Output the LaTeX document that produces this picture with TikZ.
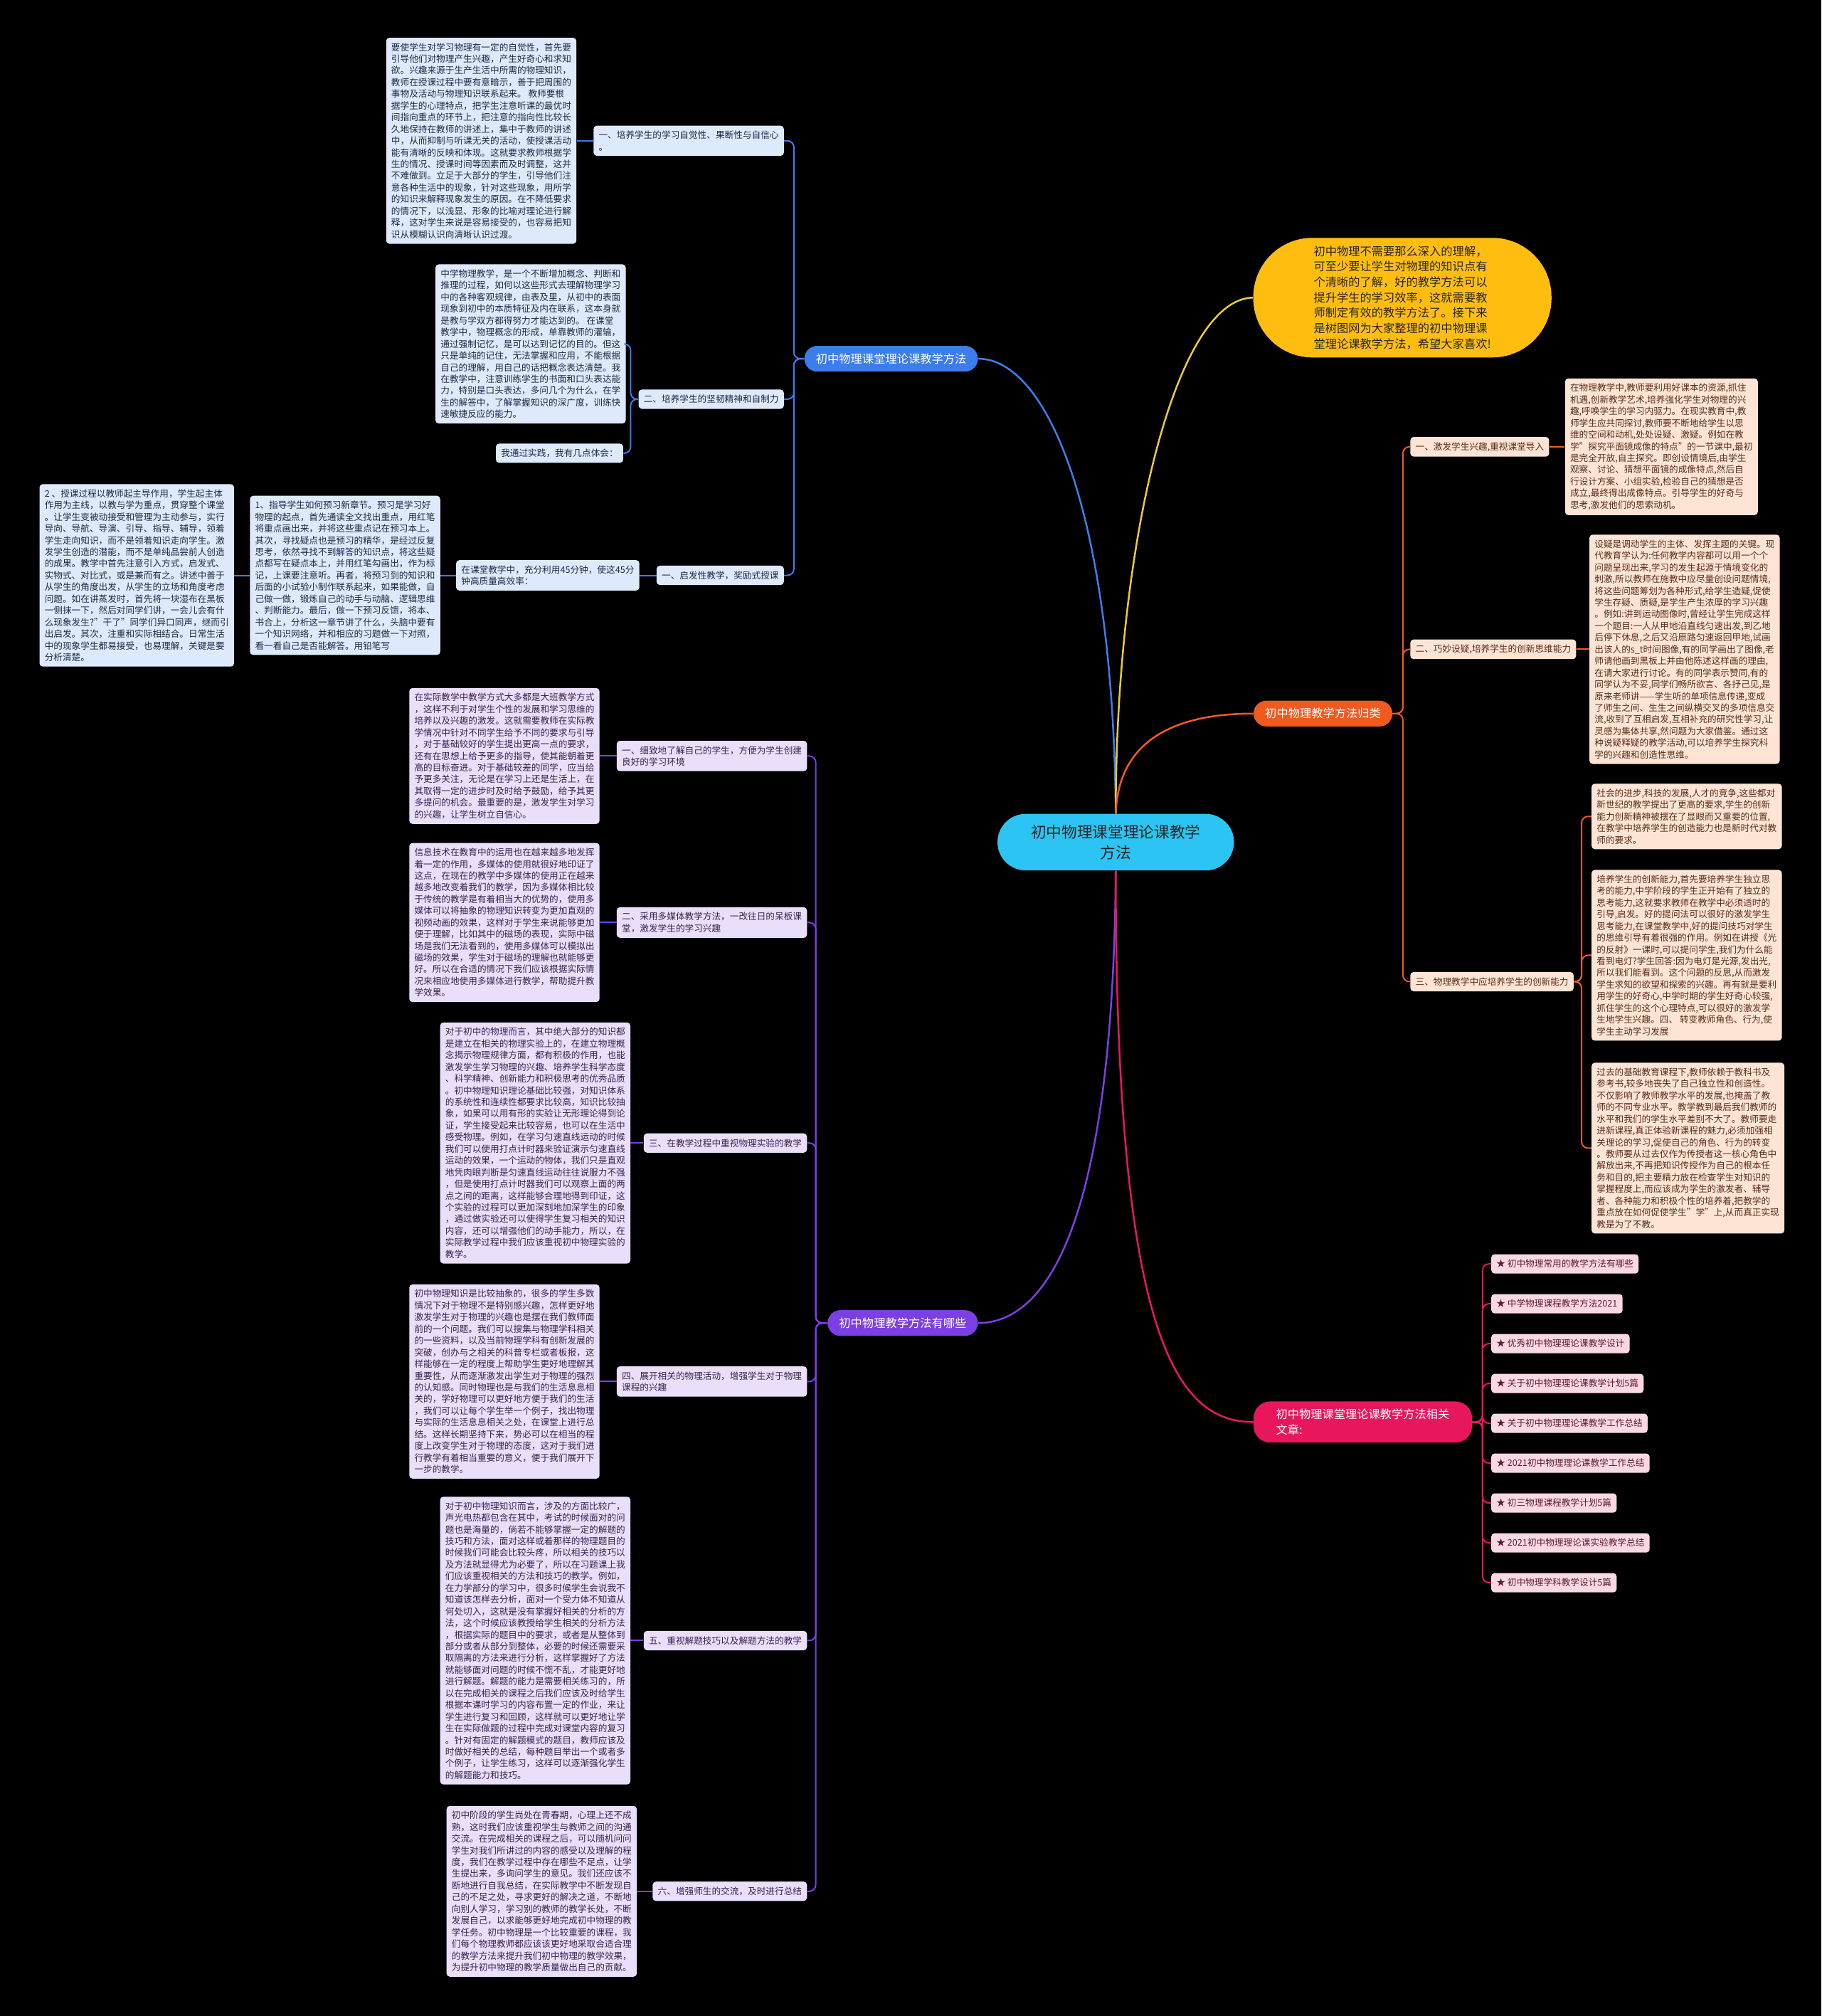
\documentclass[tikz,border=0pt]{standalone}
\usepackage{fontspec}
\setmainfont{Noto Sans CJK SC}
\usetikzlibrary{positioning}
\definecolor{rootC}{RGB}{43,196,243}
\definecolor{introC}{RGB}{255,190,15}
\definecolor{blueM}{RGB}{59,125,235}
\definecolor{blueL}{RGB}{222,233,251}
\definecolor{blueT}{RGB}{32,42,70}
\definecolor{purpM}{RGB}{123,63,228}
\definecolor{purpL}{RGB}{233,223,250}
\definecolor{purpT}{RGB}{55,35,80}
\definecolor{orgM}{RGB}{240,90,30}
\definecolor{orgL}{RGB}{253,228,212}
\definecolor{orgT}{RGB}{88,45,25}
\definecolor{pinkM}{RGB}{232,23,93}
\definecolor{pinkL}{RGB}{252,216,229}
\definecolor{pinkT}{RGB}{90,30,50}
\definecolor{yelLn}{RGB}{232,200,60}

\begin{document}
\begin{tikzpicture}[x=1pt, y=-1pt, font=\fontsize{7}{9.1}\selectfont, node distance=12pt,
  box/.style={rounded corners=2.5pt, align=left, inner xsep=4pt, inner ysep=4pt},
  lbl/.style={box, minimum height=15pt},
  bluebox/.style={fill=blueL, text=blueT},
  purpbox/.style={fill=purpL, text=purpT},
  orgbox/.style={fill=orgL, text=orgT},
  pinkbox/.style={fill=pinkL, text=pinkT},
  main/.style={rounded corners=10pt, minimum height=20pt, inner xsep=9pt, text=white, font=\fontsize{9}{12}\selectfont},
  mainln/.style={line width=1.4pt},
  ln/.style={line width=1.1pt, rounded corners=5pt}]
\fill[black] (0,0) rectangle (1417,1568);
\useasboundingbox (0,0) rectangle (1417,1568);

\node[main, fill=rootC, text=black!85, font=\fontsize{12}{16}\selectfont, minimum width=184pt, minimum height=44pt, rounded corners=22pt, align=center] (root) at (868,655) {初中物理课堂理论课教学\\方法};
\node[fill=introC, text=black!85, rounded corners=46pt, minimum width=232pt, minimum height=93pt, align=left, font=\fontsize{9}{12}\selectfont] (intro) at (1091,231.5) {初中物理不需要那么深入的理解，\\可至少要让学生对物理的知识点有\\个清晰的了解，好的教学方法可以\\提升学生的学习效率，这就需要教\\师制定有效的教学方法了。接下来\\是树图网为大家整理的初中物理课\\堂理论课教学方法，希望大家喜欢!};
\node[main, fill=blueM, anchor=east] (b1) at (761,279) {初中物理课堂理论课教学方法};
\node[main, fill=purpM, anchor=east] (b2) at (761,1029) {初中物理教学方法有哪些};
\node[main, fill=orgM, anchor=west] (b3) at (975,555) {初中物理教学方法归类};
\node[main, fill=pinkM, anchor=west, minimum width=170pt, minimum height=32pt, rounded corners=13pt, align=left] (b4) at (975,1106) {初中物理课堂理论课教学方法相关\\文章:};

\draw[mainln, blueM] (root.north) .. controls (866,400) and (815,279) .. (b1.east);
\draw[mainln, yelLn] (root.north) .. controls (868,420) and (915,232) .. (intro.west);
\draw[mainln, orgM] (root.north) .. controls (870,575) and (915,555) .. (b3.west);
\draw[mainln, purpM] (root.south) .. controls (866,950) and (815,1029) .. (b2.east);
\draw[mainln, pinkM] (root.south) .. controls (868,1040) and (915,1106) .. (b4.west);

\node[lbl, bluebox, anchor=east] (s1) at (610,109.5) {一、培养学生的学习自觉性、果断性与自信心\\。};
\node[box, bluebox, left=13pt of s1] (s1t) {要使学生对学习物理有一定的自觉性，首先要\\引导他们对物理产生兴趣，产生好奇心和求知\\欲。兴趣来源于生产生活中所需的物理知识，\\教师在授课过程中要有意暗示，善于把周围的\\事物及活动与物理知识联系起来。 教师要根\\据学生的心理特点，把学生注意听课的最优时\\间指向重点的环节上，把注意的指向性比较长\\久地保持在教师的讲述上，集中于教师的讲述\\中，从而抑制与听课无关的活动，使授课活动\\能有清晰的反映和体现。这就要求教师根据学\\生的情况、授课时间等因素而及时调整，这并\\不难做到。立足于大部分的学生，引导他们注\\意各种生活中的现象，针对这些现象，用所学\\的知识来解释现象发生的原因。在不降低要求\\的情况下，以浅显、形象的比喻对理论进行解\\释，这对学生来说是容易接受的，也容易把知\\识从模糊认识向清晰认识过渡。};
\node[lbl, bluebox, anchor=east] (s2) at (610,310.5) {二、培养学生的坚韧精神和自制力};
\node[box, bluebox, anchor=east] (s2t) at (487,267.5) {中学物理教学，是一个不断增加概念、判断和\\推理的过程，如何以这些形式去理解物理学习\\中的各种客观规律，由表及里，从初中的表面\\现象到初中的本质特征及内在联系，这本身就\\是教与学双方都得努力才能达到的。 在课堂\\教学中，物理概念的形成，单靠教师的灌输，\\通过强制记忆，是可以达到记忆的目的。但这\\只是单纯的记住，无法掌握和应用，不能根据\\自己的理解，用自己的话把概念表达清楚。我\\在教学中，注意训练学生的书面和口头表达能\\力，特别是口头表达，多问几个为什么，在学\\生的解答中，了解掌握知识的深广度，训练快\\速敏捷反应的能力。};
\node[lbl, bluebox, anchor=east] (s2n) at (485,352.5) {我通过实践，我有几点体会：};
\node[lbl, bluebox, anchor=east] (s3) at (610,447.5) {一、启发性教学，奖励式授课};
\node[box, bluebox, left=13pt of s3] (s3m) {在课堂教学中，充分利用45分钟，使这45分\\钟高质量高效率：};
\node[box, bluebox, left=12pt of s3m] (s3a) {1、指导学生如何预习新章节。预习是学习好\\物理的起点，首先通读全文找出重点，用红笔\\将重点画出来，并将这些重点记在预习本上。\\其次，寻找疑点也是预习的精华，是经过反复\\思考，依然寻找不到解答的知识点，将这些疑\\点都写在疑点本上，并用红笔勾画出，作为标\\记，上课要注意听。再者，将预习到的知识和\\后面的小试验小制作联系起来，如果能做，自\\己做一做，锻炼自己的动手与动脑、逻辑思维\\、判断能力。最后，做一下预习反馈，将本、\\书合上，分析这一章节讲了什么，头脑中要有\\一个知识网络，并和相应的习题做一下对照，\\看一看自己是否能解答。用铅笔写};
\node[box, bluebox, left=12pt of s3a] (s3b) {2 、授课过程以教师起主导作用，学生起主体\\作用为主线，以教与学为重点，贯穿整个课堂\\。让学生变被动接受和管理为主动参与，实行\\导向、导航、导演、引导、指导、辅导，领着\\学生走向知识，而不是领着知识走向学生。激\\发学生创造的潜能，而不是单纯品尝前人创造\\的成果。教学中首先注意引入方式，启发式、\\实物式、对比式，或是兼而有之。讲述中善于\\从学生的角度出发，从学生的立场和角度考虑\\问题。如在讲蒸发时，首先将一块湿布在黑板\\一侧抹一下，然后对同学们讲，一会儿会有什\\么现象发生?"干了"同学们异口同声，继而引\\出启发。其次，注重和实际相结合。日常生活\\中的现象学生都易接受，也易理解，关键是要\\分析清楚。};
\foreach \c in {s1,s2,s3} \draw[ln, blueM] (b1.west) -- ++(-8,0) |- (\c.east);
\draw[ln, blueM] (s1.west) -- (s1t.east);
\foreach \c in {s2t,s2n} \draw[ln, blueM] (s2.west) -- ++(-6,0) |- (\c.east);
\draw[ln, blueM] (s3.west) -- (s3m.east);
\draw[ln, blueM] (s3m.west) -- (s3a.east);
\draw[ln, blueM] (s3a.west) -- (s3b.east);

\node[lbl, purpbox, anchor=east] (p1) at (628,588) {一、细致地了解自己的学生，方便为学生创建\\良好的学习环境};
\node[box, purpbox, left=13pt of p1] (p1t) {在实际教学中教学方式大多都是大班教学方式\\，这样不利于对学生个性的发展和学习思维的\\培养以及兴趣的激发。这就需要教师在实际教\\学情况中针对不同学生给予不同的要求与引导\\，对于基础较好的学生提出更高一点的要求，\\还有在思想上给予更多的指导，使其能朝着更\\高的目标奋进。对于基础较差的同学，应当给\\予更多关注，无论是在学习上还是生活上，在\\其取得一定的进步时及时给予鼓励，给予其更\\多提问的机会。最重要的是，激发学生对学习\\的兴趣，让学生树立自信心。};
\node[lbl, purpbox, anchor=east] (p2) at (628,717.5) {二、采用多媒体教学方法，一改往日的呆板课\\堂，激发学生的学习兴趣};
\node[box, purpbox, left=13pt of p2] (p2t) {信息技术在教育中的运用也在越来越多地发挥\\着一定的作用，多媒体的使用就很好地印证了\\这点，在现在的教学中多媒体的使用正在越来\\越多地改变着我们的教学，因为多媒体相比较\\于传统的教学是有着相当大的优势的，使用多\\媒体可以将抽象的物理知识转变为更加直观的\\视频动画的效果，这样对于学生来说能够更加\\便于理解，比如其中的磁场的表现，实际中磁\\场是我们无法看到的，使用多媒体可以模拟出\\磁场的效果，学生对于磁场的理解也就能够更\\好。所以在合适的情况下我们应该根据实际情\\况来相应地使用多媒体进行教学，帮助提升教\\学效果。};
\node[lbl, purpbox, anchor=east] (p3) at (628,889) {三、在教学过程中重视物理实验的教学};
\node[box, purpbox, left=10pt of p3] (p3t) {对于初中的物理而言，其中绝大部分的知识都\\是建立在相关的物理实验上的，在建立物理概\\念揭示物理规律方面，都有积极的作用，也能\\激发学生学习物理的兴趣、培养学生科学态度\\、科学精神、创新能力和积极思考的优秀品质\\。初中物理知识理论基础比较强，对知识体系\\的系统性和连续性都要求比较高，知识比较抽\\象，如果可以用有形的实验让无形理论得到论\\证，学生接受起来比较容易，也可以在生活中\\感受物理。例如，在学习匀速直线运动的时候\\我们可以使用打点计时器来验证演示匀速直线\\运动的效果，一个运动的物体，我们只是直观\\地凭肉眼判断是匀速直线运动往往说服力不强\\，但是使用打点计时器我们可以观察上面的两\\点之间的距离，这样能够合理地得到印证，这\\个实验的过程可以更加深刻地加深学生的印象\\，通过做实验还可以使得学生复习相关的知识\\内容，还可以增强他们的动手能力，所以，在\\实际教学过程中我们应该重视初中物理实验的\\教学。};
\node[lbl, purpbox, anchor=east] (p4) at (628,1074.5) {四、展开相关的物理活动，增强学生对于物理\\课程的兴趣};
\node[box, purpbox, left=13pt of p4] (p4t) {初中物理知识是比较抽象的，很多的学生多数\\情况下对于物理不是特别感兴趣，怎样更好地\\激发学生对于物理的兴趣也是摆在我们教师面\\前的一个问题。我们可以搜集与物理学科相关\\的一些资料，以及当前物理学科有创新发展的\\突破，创办与之相关的科普专栏或者板报，这\\样能够在一定的程度上帮助学生更好地理解其\\重要性，从而逐渐激发出学生对于物理的强烈\\的认知感。同时物理也是与我们的生活息息相\\关的，学好物理可以更好地方便于我们的生活\\，我们可以让每个学生举一个例子，找出物理\\与实际的生活息息相关之处，在课堂上进行总\\结。这样长期坚持下来，势必可以在相当的程\\度上改变学生对于物理的态度，这对于我们进\\行教学有着相当重要的意义，便于我们展开下\\一步的教学。};
\node[lbl, purpbox, anchor=east] (p5) at (628,1276) {五、重视解题技巧以及解题方法的教学};
\node[box, purpbox, left=10pt of p5] (p5t) {对于初中物理知识而言，涉及的方面比较广，\\声光电热都包含在其中，考试的时候面对的问\\题也是海量的，倘若不能够掌握一定的解题的\\技巧和方法，面对这样或着那样的物理题目的\\时候我们可能会比较头疼，所以相关的技巧以\\及方法就显得尤为必要了，所以在习题课上我\\们应该重视相关的方法和技巧的教学。例如，\\在力学部分的学习中，很多时候学生会说我不\\知道该怎样去分析，面对一个受力体不知道从\\何处切入，这就是没有掌握好相关的分析的方\\法，这个时候应该教授给学生相关的分析方法\\，根据实际的题目中的要求，或者是从整体到\\部分或者从部分到整体，必要的时候还需要采\\取隔离的方法来进行分析，这样掌握好了方法\\就能够面对问题的时候不慌不乱，才能更好地\\进行解题。解题的能力是需要相关练习的，所\\以在完成相关的课程之后我们应该及时给学生\\根据本课时学习的内容布置一定的作业，来让\\学生进行复习和回顾，这样就可以更好地让学\\生在实际做题的过程中完成对课堂内容的复习\\。针对有固定的解题模式的题目，教师应该及\\时做好相关的总结，每种题目举出一个或者多\\个例子，让学生练习，这样可以逐渐强化学生\\的解题能力和技巧。};
\node[lbl, purpbox, anchor=east] (p6) at (628,1471) {六、增强师生的交流，及时进行总结};
\node[box, purpbox, left=12pt of p6] (p6t) {初中阶段的学生尚处在青春期，心理上还不成\\熟，这时我们应该重视学生与教师之间的沟通\\交流。在完成相关的课程之后，可以随机问问\\学生对我们所讲过的内容的感受以及理解的程\\度，我们在教学过程中存在哪些不足点，让学\\生提出来，多询问学生的意见。我们还应该不\\断地进行自我总结，在实际教学中不断发现自\\己的不足之处，寻求更好的解决之道，不断地\\向别人学习，学习别的教师的教学长处，不断\\发展自己，以求能够更好地完成初中物理的教\\学任务。初中物理是一个比较重要的课程，我\\们每个物理教师都应该该更好地采取合适合理\\的教学方法来提升我们初中物理的教学效果，\\为提升初中物理的教学质量做出自己的贡献。};
\foreach \i in {1,...,6} {
  \draw[ln, purpM] (b2.west) -- ++(-9,0) |- (p\i.east);
  \draw[ln, purpM] (p\i.west) -- (p\i t.east);
}

\node[lbl, orgbox, anchor=west] (r1) at (1097,347.5) {一、激发学生兴趣,重视课堂导入};
\node[box, orgbox, right=12pt of r1] (r1t) {在物理教学中,教师要利用好课本的资源,抓住\\机遇,创新教学艺术,培养强化学生对物理的兴\\趣,呼唤学生的学习内驱力。在现实教育中,教\\师学生应共同探讨,教师要不断地给学生以思\\维的空间和动机,处处设疑、激疑。例如在教\\学"探究平面镜成像的特点"的一节课中,最初\\是完全开放,自主探究。即创设情境后,由学生\\观察、讨论、猜想平面镜的成像特点,然后自\\行设计方案、小组实验,检验自己的猜想是否\\成立,最终得出成像特点。引导学生的好奇与\\思考,激发他们的思索动机。};
\node[lbl, orgbox, anchor=west] (r2) at (1097,505) {二、巧妙设疑,培养学生的创新思维能力};
\node[box, orgbox, right=10pt of r2] (r2t) {设疑是调动学生的主体、发挥主题的关键。现\\代教育学认为:任何教学内容都可以用一个个\\问题呈现出来,学习的发生起源于情境变化的\\刺激,所以教师在施教中应尽量创设问题情境,\\将这些问题筹划为各种形式,给学生造疑,促使\\学生存疑、质疑,是学生产生浓厚的学习兴趣\\。例如:讲到运动图像时,曾经让学生完成这样\\一个题目:一人从甲地沿直线匀速出发,到乙地\\后停下休息,之后又沿原路匀速返回甲地,试画\\出该人的s\_t时间图像,有的同学画出了图像,老\\师请他画到黑板上并由他陈述这样画的理由,\\在请大家进行讨论。有的同学表示赞同,有的\\同学认为不妥,同学们畅所欲言、各抒己见,是\\原来老师讲——学生听的单项信息传递,变成\\了师生之间、生生之间纵横交叉的多项信息交\\流,收到了互相启发,互相补充的研究性学习,让\\灵感为集体共享,然问题为大家借鉴。通过这\\种说疑释疑的教学活动,可以培养学生探究科\\学的兴趣和创造性思维。};
\node[lbl, orgbox, anchor=west] (r3) at (1097,763.5) {三、物理教学中应培养学生的创新能力};
\node[box, orgbox, anchor=west] (r3a) at (1238,635) {社会的进步,科技的发展,人才的竞争,这些都对\\新世纪的教学提出了更高的要求,学生的创新\\能力创新精神被摆在了显眼而又重要的位置,\\在教学中培养学生的创造能力也是新时代对教\\师的要求。};
\node[box, orgbox, anchor=west] (r3b) at (1238,743) {培养学生的创新能力,首先要培养学生独立思\\考的能力,中学阶段的学生正开始有了独立的\\思考能力,这就要求教师在教学中必须适时的\\引导,启发。好的提问法可以很好的激发学生\\思考能力,在课堂教学中,好的提问技巧对学生\\的思维引导有着很强的作用。例如在讲授《光\\的反射》一课时,可以提问学生,我们为什么能\\看到电灯?学生回答:因为电灯是光源,发出光,\\所以我们能看到。这个问题的反思,从而激发\\学生求知的欲望和探索的兴趣。再有就是要利\\用学生的好奇心,中学时期的学生好奇心较强,\\抓住学生的这个心理特点,可以很好的激发学\\生地学生兴趣。四、 转变教师角色、行为,使\\学生主动学习发展};
\node[box, orgbox, anchor=west] (r3c) at (1238,893) {过去的基础教育课程下,教师依赖于教科书及\\参考书,较多地丧失了自己独立性和创造性。\\不仅影响了教师教学水平的发展,也掩盖了教\\师的不同专业水平。教学教到最后我们教师的\\水平和我们的学生水平差别不大了。教师要走\\进新课程,真正体验新课程的魅力,必须加强相\\关理论的学习,促使自己的角色、行为的转变\\。教师要从过去仅作为传授者这一核心角色中\\解放出来,不再把知识传授作为自己的根本任\\务和目的,把主要精力放在检查学生对知识的\\掌握程度上,而应该成为学生的激发者、辅导\\者、各种能力和积极个性的培养着,把教学的\\重点放在如何促使学生"学"上,从而真正实现\\教是为了不教。};
\foreach \c in {r1,r2,r3} \draw[ln, orgM] (b3.east) -- ++(8,0) |- (\c.west);
\draw[ln, orgM] (r1.east) -- (r1t.west);
\draw[ln, orgM] (r2.east) -- (r2t.west);
\foreach \c in {r3a,r3b,r3c} \draw[ln, orgM] (r3.east) -- ++(6,0) |- (\c.west);

\foreach \t [count=\i] in {初中物理常用的教学方法有哪些, 中学物理课程教学方法2021, 优秀初中物理理论课教学设计, 关于初中物理理论课教学计划5篇, 关于初中物理理论课教学工作总结, 2021初中物理理论课教学工作总结, 初三物理课程教学计划5篇, 2021初中物理理论课实验教学总结, 初中物理学科教学设计5篇} {
  \node[lbl, pinkbox, anchor=west] (k\i) at (1160,{952+31*\i}) {★ \t};
  \draw[ln, pinkM] (b4.east) -- ++(8,0) |- (k\i.west);
}
\end{tikzpicture}
\end{document}
